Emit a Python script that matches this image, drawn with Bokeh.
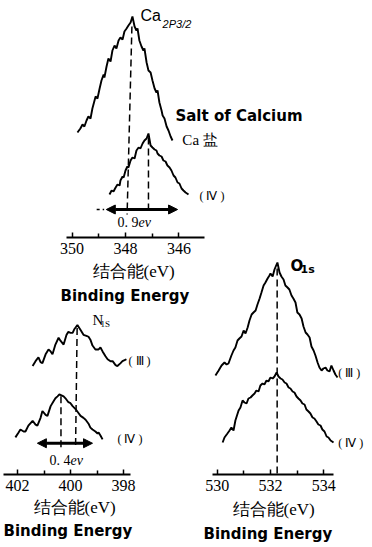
from bokeh.plotting import figure
from bokeh.models import Range1d, FixedTicker, Title, Arrow, NormalHead
from bokeh.layouts import column, row
from bokeh.core.properties import value
from bokeh.embed import file_html
from bokeh.resources import INLINE

# ---------------- data (binding energy in eV, intensity in a.u.) ----------------
CA_III_E = [349.80, 349.69, 349.61, 349.54, 349.46, 349.39, 349.31, 349.24, 349.16, 349.12,
            349.05, 348.97, 348.90, 348.82, 348.79, 348.71, 348.64, 348.56, 348.49, 348.41,
            348.34, 348.26, 348.19, 348.11, 348.04, 347.96, 347.89, 347.81, 347.74, 347.66,
            347.59, 347.55, 347.48, 347.40, 347.33, 347.29, 347.21, 347.14, 347.06, 346.99,
            346.91, 346.84, 346.80, 346.73, 346.65, 346.61, 346.54, 346.46, 346.39, 346.31,
            346.24]
CA_III_I = [18, 22, 26, 24, 30, 34, 32, 42, 50, 54, 52, 62, 70, 76, 73, 84, 92, 89, 100, 105,
            102, 110, 113, 111, 119, 122, 125, 128, 134, 124, 120, 122, 110, 104, 100, 102, 88, 80, 78, 70,
            62, 58, 60, 48, 40, 35, 32, 24, 20, 14, 10]
CA_IV_E = [348.60, 348.52, 348.45, 348.37, 348.30, 348.22, 348.19, 348.11, 348.07, 348.00,
           347.93, 347.89, 347.81, 347.74, 347.66, 347.59, 347.51, 347.44, 347.36, 347.29,
           347.21, 347.14, 347.06, 346.99, 346.91, 346.84, 346.80, 346.73, 346.65, 346.58,
           346.50, 346.43, 346.35, 346.28, 346.20, 346.13, 346.05, 345.98, 345.90, 345.83,
           345.75, 345.64]
CA_IV_I = [6, 10, 9, 13, 16, 15, 20, 24, 23, 30, 34, 33, 40, 43, 42, 50, 53, 52, 57, 60,
           62, 67, 55, 53, 51, 50, 47, 45, 44, 40, 39, 35, 33, 30, 25, 23, 18, 17, 12, 10, 8, 6]

N_III_E = [401.43, 401.32, 401.21, 401.13, 401.06, 400.94, 400.83, 400.75, 400.68, 400.57,
           400.45, 400.38, 400.26, 400.15, 400.08, 400.00, 399.92, 399.85, 399.74, 399.62,
           399.51, 399.40, 399.32, 399.25, 399.17, 399.06, 398.94, 398.87, 398.79, 398.68,
           398.60, 398.49, 398.41, 398.30, 398.23, 398.11, 398.04, 397.96, 397.89]
N_III_I = [13, 18, 22, 17, 16, 25, 30, 28, 25, 35, 42, 39, 35, 45, 48, 47, 47, 51, 55, 50,
           45, 44, 43, 40, 34, 30, 30, 32, 28, 23, 20, 18, 18, 14, 13, 16, 18, 19, 20]
N_IV_E = [402.08, 401.96, 401.89, 401.77, 401.70, 401.59, 401.43, 401.32, 401.25, 401.13,
          401.06, 400.94, 400.87, 400.75, 400.64, 400.57, 400.49, 400.42, 400.34, 400.26,
          400.19, 400.08, 400.00, 399.92, 399.81, 399.70, 399.62, 399.51, 399.43, 399.32,
          399.25, 399.17, 399.06, 398.98, 398.94, 398.87, 398.79]
N_IV_I = [10, 15, 18, 16, 16, 22, 27, 23, 22, 30, 37, 33, 32, 42, 47, 50, 52, 54, 53, 52,
          50, 46, 45, 42, 39, 35, 32, 30, 28, 24, 20, 18, 16, 14, 15, 12, 8]

O_III_E = [529.93, 530.05, 530.16, 530.27, 530.35, 530.42, 530.53, 530.61, 530.68, 530.76,
           530.83, 530.91, 530.99, 531.06, 531.14, 531.21, 531.29, 531.36, 531.44, 531.51,
           531.59, 531.66, 531.74, 531.81, 531.89, 531.96, 532.00, 532.08, 532.15, 532.26,
           532.34, 532.41, 532.49, 532.56, 532.64, 532.71, 532.79, 532.86, 532.94, 533.01,
           533.09, 533.17, 533.24, 533.32, 533.39, 533.47, 533.54, 533.62, 533.69, 533.77,
           533.84, 533.92, 533.99, 534.07, 534.14, 534.22, 534.29, 534.37, 534.44, 534.52]
O_III_I = [5, 10, 15, 18, 16, 17, 25, 30, 33, 40, 42, 44, 50, 47, 53, 60, 66, 68, 70, 76,
           82, 88, 95, 98, 102, 105, 107, 104, 111, 118, 108, 104, 101, 95, 93, 91, 85, 82, 78, 68,
           66, 62, 54, 48, 46, 43, 34, 30, 25, 18, 13, 10, 12, 13, 10, 9, 15, 10, 6, 3]
O_IV_E = [530.20, 530.27, 530.38, 530.46, 530.53, 530.61, 530.68, 530.80, 530.87, 530.95,
          531.02, 531.10, 531.17, 531.25, 531.32, 531.40, 531.47, 531.55, 531.62, 531.70,
          531.77, 531.85, 531.92, 532.00, 532.08, 532.15, 532.23, 532.30, 532.38, 532.45,
          532.53, 532.60, 532.68, 532.75, 532.83, 532.90, 532.98, 533.05, 533.13, 533.20,
          533.28, 533.35, 533.43, 533.50, 533.58, 533.65, 533.73, 533.80, 533.88, 533.95,
          534.03, 534.11, 534.18, 534.26, 534.37]
O_IV_I = [8, 13, 17, 20, 23, 20, 30, 40, 43, 50, 48, 47, 52, 53, 55, 57, 60, 59, 65, 67,
          66, 70, 69, 73, 72, 74, 78, 74, 72, 71, 68, 67, 63, 62, 59, 58, 54, 52, 50, 47,
          46, 41, 39, 37, 33, 32, 29, 26, 25, 21, 19, 14, 13, 10, 8]

# peak positions (eV) marked by dashed lines, and the quoted shifts
CA_PEAKS = [(347.76, 347.94), (347.14, 347.14)]
N_PEAKS = [(399.75, 399.81), (400.36, 400.36)]
O_PEAK = 532.25
CA_SHIFT = ("0. 9", "ev")
N_SHIFT = ("0. 4", "ev")

# tick labels
CA_TICKS, CA_MINOR = [346, 348, 350], [347, 349]
N_TICKS, N_MINOR = [398, 400, 402], [399, 401]
O_TICKS, O_MINOR = [530, 532, 534], [531, 533]
AXIS_CN = "结合能(eV)"
AXIS_EN = "Binding Energy"

# ---------------- styling / layout constants ----------------
SERIF = "Liberation Serif"
SANS = "Liberation Sans"
BOLD = "DejaVu Sans"
LW = 1.9
DASH = "7 4"
CA_OFF_III, CA_OFF_IV = 50, 0
N_OFF_III, N_OFF_IV = 100, 30
O_OFF_III, O_OFF_IV = 100, 30


def panel(width, height, xr, yr, border_bottom, bounds, ticks, minor, tick_standoff,
          cn_offset, cn_standoff, en_offset):
    p = figure(width=width, height=height, output_backend="svg", toolbar_location=None,
               x_range=Range1d(*xr), y_range=Range1d(*yr),
               y_axis_location=None, min_border_left=0, min_border_right=0,
               min_border_top=0, min_border_bottom=border_bottom,
               background_fill_color=None, border_fill_color=None,
               outline_line_color=None)
    p.grid.visible = False
    ax = p.xaxis[0]
    ax.bounds = bounds
    ax.ticker = FixedTicker(ticks=ticks, minor_ticks=minor)
    ax.axis_line_width = 2
    ax.axis_line_color = "black"
    ax.major_tick_in = 5
    ax.major_tick_out = 0
    ax.minor_tick_in = 4
    ax.minor_tick_out = 0
    ax.major_tick_line_width = 1.5
    ax.minor_tick_line_width = 1.5
    ax.major_label_text_font = SERIF
    ax.major_label_text_font_size = "16px"
    ax.major_label_text_color = "black"
    ax.major_label_standoff = tick_standoff
    p.add_layout(Title(text=AXIS_CN, align="left", offset=cn_offset, text_font=SERIF,
                       text_font_size="17px", text_font_style="normal", text_color="black",
                       standoff=cn_standoff), "below")
    p.add_layout(Title(text=AXIS_EN, align="left", offset=en_offset, text_font=BOLD,
                       text_font_size="15px", text_font_style="bold", text_color="black",
                       standoff=0), "below")
    return p


def txt(p, x, y, s, size, font=SERIF, style="normal", align="left"):
    p.text(x=[x], y=[y], text=[s], text_font=value(font), text_font_size=size,
           text_font_style=style, text_align=align, text_baseline="middle", text_color="black")


def curve(p, e, i, off):
    p.line(x=e, y=[v + off for v in i], line_width=LW, line_color="black")


def head():
    return NormalHead(size=9, fill_color="black", line_color="black")


# ---------------- Ca 2p3/2 panel ----------------
ca = panel(372, 320, (352.682, 338.749), (-37, 200), 83, (345.05, 350.2),
           CA_TICKS, CA_MINOR, 5, 92, 7, 60)
curve(ca, CA_III_E, CA_III_I, CA_OFF_III)
curve(ca, CA_IV_E, CA_IV_I, CA_OFF_IV)
ca_arrow_y = -9
ca.segment(x0=[CA_PEAKS[0][0], CA_PEAKS[1][0]],
           y0=[max(CA_III_I) + CA_OFF_III - 10, max(CA_IV_I) + CA_OFF_IV - 4],
           x1=[CA_PEAKS[0][1], CA_PEAKS[1][1]], y1=[ca_arrow_y - 5, ca_arrow_y - 5],
           line_dash=DASH, line_width=1.5, line_color="black")
ca.segment(x0=[349.08], y0=[ca_arrow_y], x1=[348.80], y1=[ca_arrow_y], line_dash="3 3",
           line_width=1.5, line_color="black")
ca.add_layout(Arrow(x_start=348.72, y_start=ca_arrow_y, x_end=346.05, y_end=ca_arrow_y,
                    line_width=3, start=head(), end=head()))
txt(ca, 347.51, ca_arrow_y - 13, CA_SHIFT[0], "14px", align="right")
txt(ca, 347.51, ca_arrow_y - 13, CA_SHIFT[1], "14px", style="italic")
txt(ca, 347.44, 185, "Ca", "16px", font=SANS)
txt(ca, 346.61, 177, "2P3/2", "11px", font=SANS, style="italic")
txt(ca, 346.13, 85, "Salt of Calcium", "15px", font=BOLD, style="bold")
txt(ca, 345.87, 61, "Ca 盐", "15px")
txt(ca, 345.23, 5, "( Ⅳ )", "12px")

# ---------------- N 1s panel ----------------
n = panel(190, 242, (402.642, 395.472), (2, 175), 69, (397.74, 402.53),
          N_TICKS, N_MINOR, 5, 33, 5, 3)
curve(n, N_III_E, N_III_I, N_OFF_III)
curve(n, N_IV_E, N_IV_I, N_OFF_IV)
n_arrow_y = 34
n.segment(x0=[N_PEAKS[0][0], N_PEAKS[1][0]],
          y0=[max(N_III_I) + N_OFF_III - 3, max(N_IV_I) + N_OFF_IV - 2],
          x1=[N_PEAKS[0][1], N_PEAKS[1][1]], y1=[n_arrow_y - 6, n_arrow_y - 6],
          line_dash=DASH, line_width=1.5, line_color="black")
n.add_layout(Arrow(x_start=401.25, y_start=n_arrow_y, x_end=399.17, y_end=n_arrow_y,
                   line_width=3, start=head(), end=head()))
txt(n, 400.0, n_arrow_y - 18, N_SHIFT[0], "14px", align="right")
txt(n, 400.0, n_arrow_y - 18, N_SHIFT[1], "14px", style="italic")
txt(n, 399.17, 160, "N", "15px")
txt(n, 398.87, 156, "1S", "9px")
txt(n, 397.81, 118, "( Ⅲ )", "12px")
txt(n, 398.23, 38, "( Ⅳ )", "12px")

# ---------------- O 1s panel ----------------
o = panel(182, 297, (528.992, 535.835), (6, 230), 73, (529.82, 534.37),
          O_TICKS, O_MINOR, 5, 42, 8, 13)
o.margin = (-55, 0, 0, 0)
curve(o, O_III_E, O_III_I, O_OFF_III)
curve(o, O_IV_E, O_IV_I, O_OFF_IV)
o.segment(x0=[O_PEAK], y0=[max(O_III_I) + O_OFF_III - 6], x1=[O_PEAK], y1=[6],
          line_dash=DASH, line_width=1.5, line_color="black")
txt(o, 532.75, 215, "O", "15px", font=BOLD, style="bold")
txt(o, 533.13, 211, "1s", "11px", font=BOLD, style="bold")
txt(o, 534.55, 108, "( Ⅲ )", "12px")
txt(o, 534.55, 38, "( Ⅳ )", "12px")

bottom = row(n, o)
bottom.margin = (-15, 0, 0, 0)
layout = column(ca, bottom)
open("out.html", "w").write(file_html(layout, INLINE))
